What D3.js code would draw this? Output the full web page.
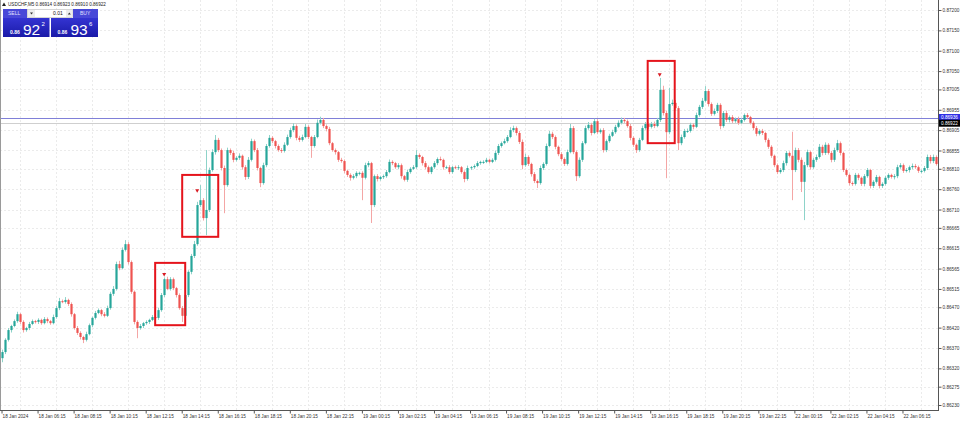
<!DOCTYPE html>
<html><head><meta charset="utf-8">
<script src="https://cdn.jsdelivr.net/npm/d3@7"></script>
<style>
html,body{margin:0;padding:0;background:#fff;overflow:hidden;}
svg{display:block;font-family:"Liberation Sans",Arial,sans-serif;}
</style></head><body>
<svg id="chart" width="960" height="423"></svg>
<script>
// ---------- DATA (prices in points, 1 point = 0.00001) ----------
const headerText = "USDCHF,M5  0.86914 0.86923 0.86910 0.86922";
const firstOpen = 86345;
const closes = [
86360,86390,86414,86424,86436,86453,86434,86414,86419,86429,86436,86434,
86439,86431,86441,86436,86431,86446,86468,86485,86483,86488,86478,86453,
86419,86407,86397,86390,86404,86426,86444,86456,86463,86453,86449,86468,
86503,86515,86576,86566,86611,86625,86581,86508,86434,86419,86424,86431,
86434,86439,86446,86444,86463,86500,86539,86515,86539,86517,86500,86468,
86449,86500,86557,86596,86625,86721,86733,86689,86709,86807,86851,86881,
86856,86812,86770,86856,86849,86832,86837,86842,86814,86790,86832,86878,
86856,86812,86775,86819,86866,86886,86878,86866,86856,86854,86869,86888,
86905,86915,86886,86881,86888,86913,86888,86866,86888,86923,86930,86915,
86908,86873,86856,86851,86832,86829,86805,86795,86788,86792,86800,86800,
86788,86819,86824,86721,86792,86785,86790,86792,86802,86827,86824,86814,
86819,86792,86783,86802,86810,86814,86844,86839,86824,86814,86802,86814,
86824,86834,86832,86814,86814,86802,86814,86812,86814,86802,86785,86812,
86814,86817,86824,86827,86827,86832,86827,86832,86849,86866,86873,86878,
86888,86905,86910,86898,86876,86819,86839,86822,86797,86780,86775,86812,
86822,86866,86896,86888,86864,86846,86834,86822,86851,86910,86851,86792,
86832,86873,86910,86918,86898,86927,86900,86905,86856,86878,86891,86900,
86913,86923,86930,86927,86915,86886,86869,86856,86881,86910,86920,86913,
86920,86915,86930,87004,86947,86900,86969,86972,86959,86873,86888,86903,
86903,86918,86913,86942,86962,86977,87001,86969,86945,86952,86967,86915,
86947,86930,86937,86927,86932,86923,86930,86942,86937,86923,86910,86896,
86903,86898,86881,86864,86842,86819,86802,86807,86824,86849,86842,86807,
86856,86832,86778,86819,86851,86814,86832,86839,86864,86849,86869,86849,
86832,86856,86873,86849,86807,86795,86775,86773,86795,86788,86773,86792,
86807,86768,86778,86790,86768,86773,86788,86795,86790,86792,86814,86819,
86805,86807,86814,86817,86814,86805,86805,86812,86839,86829,86839,86822
];
// upper / lower shadow lengths in points
const upWick = [
6,4,5,3,4,6,3,4,3,5,4,3, 4,3,5,4,3,6,5,8,4,7,3,4, 3,5,4,3,6,4,3,5,4,3,5,6,
5,7,6,8,6,10,5,4,3,4,5,3, 4,3,5,4,6,5,4,6,5,4,3,4, 5,6,4,5,8,8,37,5,147,6,7,12,
5,4,6,6,4,5,4,6,3,5,7,6, 4,5,3,6,5,7,4,3,4,5,6,6, 6,7,4,5,6,7,4,3,5,8,8,5,
4,5,3,4,3,5,4,3,4,5,4,3, 4,6,5,3,4,5,3,4,5,6,4,3, 5,4,3,6,4,5,12,4,3,5,4,3,
5,4,6,3,4,5,3,4,5,3,4,6, 3,4,5,3,4,5,3,4,6,5,4,6, 5,7,6,4,5,6,8,4,3,5,4,6,
4,6,7,5,4,3,5,4,6,10,5,4, 6,5,6,7,5,6,5,4,5,4,5,6, 5,6,6,5,4,5,4,3,5,6,5,4,
5,6,5,29,10,6,40,8,7,5,6,5, 6,5,4,6,5,7,12,5,4,6,5,4, 5,6,4,5,4,6,5,4,5,3,4,5,
4,5,3,4,4,3,4,5,6,5,4,59, 6,5,6,8,6,4,5,6,7,5,6,4, 5,6,8,4,3,4,3,4,5,4,3,5,
5,3,4,5,3,4,5,4,3,5,6,5, 4,5,4,6,5,4,3,5,6,5,6,4
];
const dnWick = [
10,5,4,6,3,4,5,6,4,5,3,4, 5,4,3,5,4,3,4,5,3,4,5,6, 4,5,6,8,4,3,5,4,3,5,4,3,
4,5,4,5,3,4,6,5,6,25,4,5, 4,5,3,4,5,4,5,3,4,5,6,4, 15,4,5,6,5,4,5,6,42,5,4,6,
5,6,69,4,5,6,4,5,6,7,5,4, 5,6,10,4,5,4,5,6,4,5,4,3, 4,5,6,5,4,3,5,29,4,3,4,5,
6,5,4,6,5,4,6,5,7,4,5,6, 55,4,5,44,5,6,4,5,4,3,5,4, 5,6,4,5,4,3,4,5,6,5,4,5,
4,5,3,6,4,5,4,3,5,4,8,4, 5,4,3,4,5,3,4,3,4,5,4,3, 4,3,5,6,5,10,4,5,6,5,12,4,
5,4,3,5,6,5,4,5,4,3,5,12, 4,5,3,4,6,3,5,4,6,5,4,3, 4,3,4,5,4,6,5,7,4,3,4,5,
4,5,3,5,6,113,5,4,6,17,5,4, 5,4,6,3,4,5,4,6,5,4,5,8, 4,5,6,5,4,5,3,4,5,4,5,6,
4,5,6,5,5,5,5,4,5,6,4,74, 5,6,25,94,5,6,4,5,4,6,5,4, 6,5,4,6,5,4,6,5,4,6,5,6,
4,6,5,4,6,5,4,5,4,6,5,4, 5,4,6,5,4,5,6,4,5,6,5,4
];
const timeLabels = ["18 Jan 2024","18 Jan 06:15","18 Jan 08:15","18 Jan 10:15","18 Jan 12:15","18 Jan 14:15",
"18 Jan 16:15","18 Jan 18:15","18 Jan 20:15","18 Jan 22:15","19 Jan 00:15","19 Jan 02:15","19 Jan 04:15",
"19 Jan 06:15","19 Jan 08:15","19 Jan 10:15","19 Jan 12:15","19 Jan 14:15","19 Jan 16:15","19 Jan 18:15",
"19 Jan 20:15","19 Jan 22:15","22 Jan 00:15","22 Jan 02:15","22 Jan 04:15","22 Jan 06:15"];
const timeLabelBars = timeLabels.map((_, k) => 6 + 12 * k);
const priceTicks = [87200,87150,87100,87050,87005,86955,86905,86855,86810,86760,86710,86665,86615,86565,86515,86470,86420,86370,86320,86275,86230];
const priceTickLabels = ["0.87200","0.87150","0.87100","0.87050","0.87005","0.86955","0.86905","0.86855","0.86810","0.86760","0.86710","0.86665","0.86615","0.86565","0.86515","0.86470","0.86420","0.86370","0.86320","0.86275","0.86230"];
const hLinePrice = 86936, hLineLabel = "0.86936";
const bidPrice = 86922, bidLabel = "0.86922";
// highlight boxes: [startBar, endBar, topPrice, bottomPrice]
const boxes = [[51,61,86579,86426],[60,72,86795,86643],[215,224,87075,86873]];
// signal markers: [bar, price]
const markers = [[54,86549],[65,86755],[219,87040]];
// one-click trading panel
const sellPrice = {big:"0.86", main:"92", sup:"2"};
const buyPrice  = {big:"0.86", main:"93", sup:"6"};
const lotText = "0.01";

// ---------- DRAW ----------
const svg = d3.select("#chart");
const W = 960, H = 423, plotR = 938, plotB = 410;
const n = closes.length;
const x = d3.scaleLinear().domain([0, n - 1]).range([2, 936]);
const y = d3.scaleLinear().domain([86230, 87200]).range([405, 10]);

svg.append("rect").attr("width", W).attr("height", H).attr("fill", "#fff");

const candles = closes.map((c, i) => {
  const o = i === 0 ? firstOpen : closes[i - 1];
  return {i, o, c, h: Math.max(o, c) + upWick[i], l: Math.min(o, c) - dnWick[i]};
});

// grid
const grid = svg.append("g").attr("stroke", "#ebebeb").attr("stroke-width", 1).attr("stroke-dasharray", "2,2");
grid.selectAll(".hg").data(priceTicks).join("line")
  .attr("x1", 0).attr("x2", plotR)
  .attr("y1", d => Math.round(y(d)) + 0.5).attr("y2", d => Math.round(y(d)) + 0.5);
grid.selectAll(".vg").data(timeLabelBars).join("line")
  .attr("y1", 0).attr("y2", plotB)
  .attr("x1", d => Math.round(x(d)) + 0.5).attr("x2", d => Math.round(x(d)) + 0.5);

// price lines
svg.append("line").attr("x1", 0).attr("x2", plotR)
  .attr("y1", Math.round(y(bidPrice)) + 0.5).attr("y2", Math.round(y(bidPrice)) + 0.5)
  .attr("stroke", "#cfcfcf").attr("stroke-width", 1);
svg.append("line").attr("x1", 0).attr("x2", plotR)
  .attr("y1", Math.round(y(hLinePrice)) + 0.5).attr("y2", Math.round(y(hLinePrice)) + 0.5)
  .attr("stroke", "#8080d8").attr("stroke-width", 1);

// candles
const bullBody = "#26a69a", bearBody = "#ef5350", bullWick = "#8ed3c9", bearWick = "#f4a6a5";
const cg = svg.append("g");
cg.selectAll(".wick").data(candles).join("rect")
  .attr("x", d => Math.round(x(d.i)))
  .attr("width", 1)
  .attr("y", d => y(d.h))
  .attr("height", d => y(d.l) - y(d.h))
  .attr("fill", d => d.c >= d.o ? bullWick : bearWick);
cg.selectAll(".body").data(candles).join("rect")
  .attr("x", d => Math.round(x(d.i)) - 0.6)
  .attr("width", 2.2)
  .attr("y", d => y(Math.max(d.o, d.c)))
  .attr("height", d => Math.max(1, Math.abs(y(d.o) - y(d.c))))
  .attr("fill", d => d.c >= d.o ? bullBody : bearBody);

// boxes
svg.append("g").selectAll("rect").data(boxes).join("rect")
  .attr("x", d => x(d[0])).attr("y", d => y(d[2]))
  .attr("width", d => x(d[1]) - x(d[0])).attr("height", d => y(d[3]) - y(d[2]))
  .attr("fill", "none").attr("stroke", "#e5141c").attr("stroke-width", 2);

// markers
svg.append("g").selectAll("path").data(markers).join("path")
  .attr("transform", d => `translate(${x(d[0])},${y(d[1])})`)
  .attr("d", "M-2,-2 L2,-2 L0,1.5 Z")
  .attr("fill", "#d81b23");

// frame
svg.append("line").attr("x1", 0.5).attr("x2", 0.5).attr("y1", 0).attr("y2", plotB).attr("stroke", "#9a9a9a");
svg.append("line").attr("x1", plotR + 0.5).attr("x2", plotR + 0.5).attr("y1", 0).attr("y2", plotB + 1).attr("stroke", "#555");
svg.append("line").attr("x1", 0).attr("x2", plotR + 1).attr("y1", plotB + 0.5).attr("y2", plotB + 0.5).attr("stroke", "#555");

// y axis
const yAxis = d3.axisRight(y).tickValues(priceTicks).tickFormat((d, i) => priceTickLabels[i]).tickSize(3).tickPadding(1);
const yg = svg.append("g").attr("transform", `translate(${plotR + 0.5},0)`).call(yAxis);
yg.select(".domain").remove();
yg.selectAll("line").attr("stroke", "#555");
yg.selectAll("text").attr("font-size", 4.7).attr("fill", "#333").attr("font-family", "Liberation Sans, Arial, sans-serif");

// x axis
const xAxis = d3.axisBottom(x).tickValues(timeLabelBars).tickFormat((d, i) => timeLabels[i]).tickSize(0);
const xg = svg.append("g").attr("transform", `translate(0,${plotB + 0.5})`).call(xAxis);
xg.select(".domain").remove();
xg.selectAll(".tick text").attr("text-anchor", "start").attr("x", -18).attr("y", 4).attr("dy", "0.71em")
  .attr("font-size", 4.7).attr("fill", "#333").attr("font-family", "Liberation Sans, Arial, sans-serif");
xg.selectAll(".tick line").attr("x1", -18.5).attr("x2", -18.5).attr("y1", 0).attr("y2", 3).attr("stroke", "#555");

// price labels on axis
function priceTag(p, label, bg) {
  const yy = y(p);
  svg.append("rect").attr("x", plotR + 1).attr("y", yy - 3.5).attr("width", 21).attr("height", 7).attr("fill", bg);
  svg.append("text").attr("x", plotR + 3).attr("y", yy).attr("dy", "0.35em").attr("font-size", 4.7)
    .attr("fill", "#fff").text(label);
}
priceTag(hLinePrice, hLineLabel, "#2f2fe6");
priceTag(bidPrice, bidLabel, "#000");

// header
svg.append("path").attr("d", "M2,6 L4,2.5 L6,6 Z").attr("fill", "#222");
svg.append("text").attr("x", 8).attr("y", 6.3).attr("font-size", 4.6).attr("fill", "#222").text(headerText);

// one-click panel
const p = svg.append("g");
const defs = svg.append("defs");
const gr = defs.append("linearGradient").attr("id", "gblue").attr("x1", 0).attr("y1", 0).attr("x2", 0).attr("y2", 1);
gr.append("stop").attr("offset", "0%").attr("stop-color", "#3434d2");
gr.append("stop").attr("offset", "100%").attr("stop-color", "#1a1aa8");
p.append("rect").attr("x", 3).attr("y", 9).attr("width", 24).attr("height", 9).attr("fill", "#4848d8");
p.append("rect").attr("x", 73).attr("y", 9).attr("width", 25).attr("height", 9).attr("fill", "#4848d8");
p.append("rect").attr("x", 27.5).attr("y", 9.5).attr("width", 45).attr("height", 8).attr("fill", "#fff").attr("stroke", "#bbb").attr("stroke-width", 0.6);
p.append("rect").attr("x", 28).attr("y", 10).attr("width", 7).attr("height", 7).attr("fill", "#ececec");
p.append("rect").attr("x", 66).attr("y", 10).attr("width", 6.5).attr("height", 7).attr("fill", "#ececec");
p.append("path").attr("d", "M30,12.5 L33,12.5 L31.5,14.5 Z").attr("fill", "#333");
p.append("path").attr("d", "M67.8,14.5 L70.8,14.5 L69.3,12.5 Z").attr("fill", "#333");
p.append("text").attr("x", 8).attr("y", 15.3).attr("font-size", 5).attr("fill", "#e0e0ff").text("SELL");
p.append("text").attr("x", 80).attr("y", 15.3).attr("font-size", 5).attr("fill", "#e0e0ff").text("BUY");
p.append("text").attr("x", 53).attr("y", 15.3).attr("font-size", 5).attr("fill", "#111").text(lotText);
p.append("rect").attr("x", 3).attr("y", 18).attr("width", 46.5).attr("height", 19).attr("fill", "url(#gblue)");
p.append("rect").attr("x", 51).attr("y", 18).attr("width", 47).attr("height", 19).attr("fill", "url(#gblue)");
function priceBox(x0, pr) {
  p.append("text").attr("x", x0).attr("y", 33.5).attr("font-size", 5).attr("font-weight", "bold").attr("fill", "#fff").text(pr.big);
  p.append("text").attr("x", x0 + 13).attr("y", 35).attr("font-size", 15.5).attr("fill", "#fff").text(pr.main);
  p.append("text").attr("x", x0 + 31.5).attr("y", 25.5).attr("font-size", 6).attr("fill", "#fff").text(pr.sup);
}
priceBox(10, sellPrice);
priceBox(57.5, buyPrice);
</script>
</body></html>
